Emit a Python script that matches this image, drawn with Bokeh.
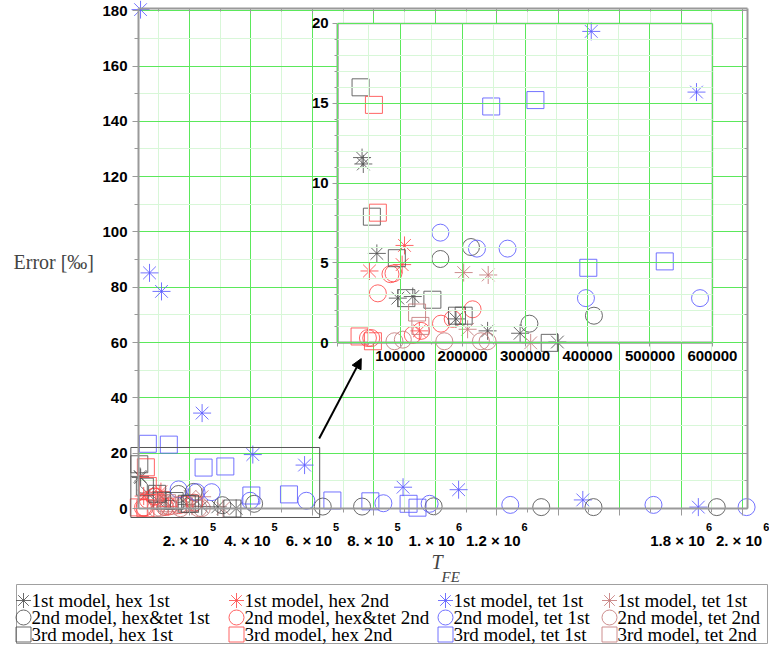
import numpy as np
from bokeh.plotting import figure
from bokeh.models import (Range1d, LinearAxis, Grid, SingleIntervalTicker, Arrow, NormalHead,
                          Label, BasicTickFormatter)
from bokeh.core.properties import value
from bokeh.embed import file_html
from bokeh.resources import INLINE

# ---------------- data (T_FE, Error [per mille]) ----------------
M1_HEX1_X = [39000, 41000, 62700, 96300, 120200, 189400, 240000, 292100, 351800]
M1_HEX1_Y = [11.6, 11.2, 5.6, 2.8, 2.9, 1.5, 0.75, 0.6, 0.05]
M1_HEX2_X = [50900, 103200, 107000, 130800]
M1_HEX2_Y = [4.5, 4.9, 6.1, 0.75]
M1_TET1_X = [40650, 69900, 108900, 241000, 406000, 574500, 895000, 1075800, 1480000, 1856000]
M1_TET1_Y = [180.4, 85.2, 78.5, 34.5, 19.5, 15.7, 7.7, 6.8, 3.1, 0.5]
M1_TET1B_X = [201700, 241000, 208000, 309000]
M1_TET1B_Y = [4.4, 4.25, 0.85, 0.0]

M2_HT1_X = [164400, 213400, 307000, 410300, 633600, 761600, 994500, 1344700, 1514800, 1916000]
M2_HT1_Y = [5.25, 6.0, 1.2, 1.7, 0.7, 0.7, 0.8, 0.5, 0.5, 0.5]
M2_HT2_X = [48400, 53700, 64300, 84500, 89300, 120200, 133500, 165400, 184100, 216000]
M2_HT2_Y = [0.3, 0.3, 3.1, 4.3, 4.35, 0.5, 0.75, 1.2, 1.5, 2.1]
M2_TET1_X = [164400, 223000, 272000, 397500, 580200, 831000, 981500, 1244000, 1710000, 2013000]
M2_TET1_Y = [6.9, 5.9, 5.9, 2.8, 2.8, 1.9, 1.7, 1.3, 1.3, 0.5]
M2_TET2_X = [90900, 104300, 170700, 229300, 240000]
M2_TET2_Y = [0.1, 0.2, 0.1, 0.1, 0.1]

M3_HEX1_X = [36600, 54700, 94700, 110000, 151600, 191000, 201700, 339500]
M3_HEX1_Y = [16.0, 7.9, 5.3, 2.8, 2.7, 1.7, 1.7, 0.0]
M3_HEX2_X = [35000, 56400, 58000, 64300]
M3_HEX2_Y = [0.4, 0.1, 14.9, 8.15]
M3_TET1_X = [64400, 132700, 245800, 316600, 401300, 523700, 665000, 788600, 913000, 942000]
M3_TET1_Y = [23.4, 23.1, 14.8, 15.2, 4.7, 5.1, 2.9, 2.6, 1.7, 0.3]
M3_TET2_X = [127100, 132400]
M3_TET2_Y = [1.9, 1.06]

# x tick labels of the main plot ("mantissa × 10" with a raised exponent)
X_TICKS = [200000, 400000, 600000, 800000, 1000000, 1200000, 1800000, 2000000]
X_TICK_BASE = ["2. × 10", "4. × 10", "6. × 10", "8. × 10", "1. × 10", "1.2 × 10", "1.8 × 10", "2. × 10"]
X_TICK_EXP = ["5", "5", "5", "5", "6", "6", "6", "6"]

BLACK, RED, BLUE, ROSY = "#505050", "#ff4a4a", "#5a5aff", "#c47a7a"

SERIES = [
    ("1st model, hex 1st", "asterisk", BLACK, M1_HEX1_X, M1_HEX1_Y),
    ("1st model, hex 2nd", "asterisk", RED, M1_HEX2_X, M1_HEX2_Y),
    ("1st model, tet 1st", "asterisk", BLUE, M1_TET1_X, M1_TET1_Y),
    ("1st model, tet 1st", "asterisk", ROSY, M1_TET1B_X, M1_TET1B_Y),
    ("2nd model, hex&tet 1st", "circle", BLACK, M2_HT1_X, M2_HT1_Y),
    ("2nd model, hex&tet 2nd", "circle", RED, M2_HT2_X, M2_HT2_Y),
    ("2nd model, tet 1st", "circle", BLUE, M2_TET1_X, M2_TET1_Y),
    ("2nd model, tet 2nd", "circle", ROSY, M2_TET2_X, M2_TET2_Y),
    ("3rd model, hex 1st", "square", BLACK, M3_HEX1_X, M3_HEX1_Y),
    ("3rd model, hex 2nd", "square", RED, M3_HEX2_X, M3_HEX2_Y),
    ("3rd model, tet 1st", "square", BLUE, M3_TET1_X, M3_TET1_Y),
    ("3rd model, tet 2nd", "square", ROSY, M3_TET2_X, M3_TET2_Y),
]

# axis / inset extents (data units)
XMIN, XMAX, YMIN, YMAX = 34000, 2016000, 0.0, 180.8
IN_X, IN_Y = (0, 600000), (0, 20)                # inset's own ranges
IN_TX, IN_TY = (682300, 1901800), (59.9, 175.4)  # where the inset sits (main data)
ZOOM_X, ZOOM_Y = (9100, 623700), (-3.25, 22.06)  # rectangle marking the zoomed region
ARROW_FROM, ARROW_TO = (622000, 25.3), (759000, 54.2)

# ---------------- layout geometry (pixels) ----------------
W, H = 769, 646
BL, BR, BT, BB = 138, 747, 8, 508      # axis box in canvas pixels
sx = (XMAX - XMIN) / (BR - BL)
sy = (YMAX - YMIN) / (BB - BT)
x_start = XMIN - BL * sx
x_end = XMAX + (W - BR) * sx
y_start = YMIN - (H - BB) * sy
y_end = YMAX + BT * sy


def inset_range(s, e, src, tgt):
    k = (src[1] - src[0]) / (tgt[1] - tgt[0])
    return Range1d(src[0] + (s - tgt[0]) * k, src[0] + (e - tgt[0]) * k)


GREEN, LGREEN, GRAY = "#5be85b", "#d8f7d8", "#9a9a9a"
TICK_FONT = "Liberation Sans"
SERIF = "Liberation Serif"
TICK_PX, EXP_PX = 15, 11

p = figure(width=W, height=H, x_range=Range1d(x_start, x_end), y_range=Range1d(y_start, y_end),
           output_backend="svg", toolbar_location=None, title=None,
           x_axis_type=None, y_axis_type=None, min_border=0)
p.outline_line_color = None
p.background_fill_color = "white"
p.border_fill_color = "white"
p.extra_x_ranges = {"ix": inset_range(x_start, x_end, IN_X, IN_TX), "px": Range1d(0, W)}
p.extra_y_ranges = {"iy": inset_range(y_start, y_end, IN_Y, IN_TY), "py": Range1d(H, 0)}


def add_grid(dim, ticker, bounds, cross, rx="default", ry="default", level="underlay"):
    g = Grid(dimension=dim, ticker=ticker, bounds=bounds, cross_bounds=cross,
             x_range_name=rx, y_range_name=ry, level=level,
             grid_line_color=GREEN, grid_line_width=1,
             minor_grid_line_color=LGREEN, minor_grid_line_width=1)
    p.add_layout(g)


def style_axis(ax, tick_out=6, minor_out=4, tick_in=0, minor_in=0, standoff=5, labels=True):
    ax.axis_line_color = GRAY
    ax.axis_line_width = 2
    ax.major_tick_line_color = GRAY
    ax.minor_tick_line_color = GRAY
    ax.major_tick_out = tick_out
    ax.minor_tick_out = minor_out
    ax.major_tick_in = tick_in
    ax.minor_tick_in = minor_in
    ax.major_label_standoff = standoff
    ax.major_label_text_font = TICK_FONT
    ax.major_label_text_font_style = "bold"
    ax.major_label_text_font_size = f"{TICK_PX}px"
    ax.major_label_text_color = "black" if labels else None


# main grids
mx_tick = SingleIntervalTicker(interval=200000, num_minor_ticks=2)
my_tick = SingleIntervalTicker(interval=20, num_minor_ticks=2)
add_grid(0, mx_tick, (XMIN, XMAX), (YMIN, YMAX))
add_grid(1, my_tick, (YMIN, YMAX), (XMIN, XMAX))

# main axes (box)
yax = LinearAxis(fixed_location=XMIN, bounds=(YMIN, YMAX), ticker=my_tick)
style_axis(yax)
p.add_layout(yax, "left")
xax = LinearAxis(fixed_location=YMIN, bounds=(XMIN, XMAX), ticker=mx_tick)
style_axis(xax, tick_out=7, labels=False)   # labels drawn below as mantissa + exponent
p.add_layout(xax, "below")
tax = LinearAxis(fixed_location=YMAX, bounds=(XMIN, XMAX), ticker=mx_tick)
style_axis(tax, tick_out=0, minor_out=0, tick_in=5, minor_in=3, labels=False)
p.add_layout(tax, "above")
rax = LinearAxis(fixed_location=XMAX, bounds=(YMIN, YMAX), ticker=my_tick)
style_axis(rax, tick_out=0, minor_out=0, tick_in=5, minor_in=3, labels=False)
p.add_layout(rax, "right")

# x tick labels: "2. × 10" followed by a raised exponent, centred as a whole on the tick
ADV = {".": 0.278, " ": 0.278, "×": 0.584}
base_w = [sum(ADV.get(ch, 0.556) for ch in s) * TICK_PX for s in X_TICK_BASE]
exp_w = [0.556 * EXP_PX * len(s) for s in X_TICK_EXP]
tot_w = [b + 1 + e for b, e in zip(base_w, exp_w)]
base_off = [t / 2 - e - 1 for t, e in zip(tot_w, exp_w)]
exp_off = [t / 2 - e for t, e in zip(tot_w, exp_w)]
p.text(x=X_TICKS, y=[540] * len(X_TICKS), text=X_TICK_BASE, x_offset=base_off,
       y_range_name="py", text_align="right", text_baseline="alphabetic",
       text_font=value(TICK_FONT), text_font_style="bold", text_font_size=f"{TICK_PX}px",
       text_color="black")
p.text(x=X_TICKS, y=[526] * len(X_TICKS), text=X_TICK_EXP, x_offset=exp_off,
       y_range_name="py", text_align="left", text_baseline="alphabetic",
       text_font=value(TICK_FONT), text_font_style="bold", text_font_size=f"{EXP_PX}px",
       text_color="black")

# main data
for name, marker, color, xs, ys in SERIES:
    p.scatter(xs, ys, marker=marker, size=18 if marker == "asterisk" else 17,
              fill_color=None, line_color=color, line_alpha=0.85, line_width=1)

# zoom rectangle + arrow
p.quad(left=[ZOOM_X[0]], right=[ZOOM_X[1]], bottom=[ZOOM_Y[0]], top=[ZOOM_Y[1]],
       fill_color=None, line_color="#555555", line_width=1)
p.add_layout(Arrow(x_start=ARROW_FROM[0], y_start=ARROW_FROM[1], x_end=ARROW_TO[0], y_end=ARROW_TO[1],
                   line_color="black", line_width=2,
                   end=NormalHead(size=10, fill_color="black", line_color="black")))

# inset
p.quad(left=[IN_X[0]], right=[IN_X[1]], bottom=[IN_Y[0]], top=[IN_Y[1]],
       x_range_name="ix", y_range_name="iy", fill_color="white",
       line_color=GRAY, line_width=1.5, level="annotation")
ix_tick = SingleIntervalTicker(interval=100000, num_minor_ticks=2)
iy_tick = SingleIntervalTicker(interval=5, num_minor_ticks=5)
add_grid(0, ix_tick, IN_X, IN_Y, "ix", "iy", "overlay")
add_grid(1, iy_tick, IN_Y, IN_X, "ix", "iy", "overlay")
iyax = LinearAxis(x_range_name="ix", y_range_name="iy", fixed_location=IN_X[0], bounds=IN_Y,
                  ticker=iy_tick, level="overlay")
style_axis(iyax, tick_out=5, minor_out=3, standoff=4)
p.add_layout(iyax, "left")
ixax = LinearAxis(x_range_name="ix", y_range_name="iy", fixed_location=IN_Y[0], bounds=IN_X,
                  ticker=ix_tick, level="overlay",
                  formatter=BasicTickFormatter(use_scientific=False),
                  major_label_overrides={0: ""})
style_axis(ixax, tick_out=4, minor_out=2, standoff=4)
p.add_layout(ixax, "below")

for name, marker, color, xs, ys in SERIES:
    xs_a, ys_a = np.asarray(xs, float), np.asarray(ys, float)
    keep = (xs_a <= IN_X[1] * 1.03) & (ys_a <= IN_Y[1] * 1.02)
    p.scatter(xs_a[keep], ys_a[keep], marker=marker, size=18 if marker == "asterisk" else 17,
              fill_color=None, line_color=color, line_alpha=0.85, line_width=1,
              x_range_name="ix", y_range_name="iy", level="overlay")

# axis titles (pixel coordinates)
p.add_layout(Label(x=13, y=261, x_range_name="px", y_range_name="py", text="Error [‰]",
                   text_font=SERIF, text_font_size="20px", text_baseline="alphabetic"))
p.add_layout(Label(x=431, y=561, x_range_name="px", y_range_name="py", text="T",
                   text_font=SERIF, text_font_style="italic", text_font_size="20px",
                   text_baseline="alphabetic"))
p.add_layout(Label(x=441, y=576, x_range_name="px", y_range_name="py", text="FE",
                   text_font=SERIF, text_font_style="italic", text_font_size="15px",
                   text_baseline="alphabetic"))

# ---------------- legend (pixel coordinates) ----------------
LEG_BOX = (16, 767, 584, 643)
LEG_GX = [23, 236, 445, 609]
LEG_RY = [600, 617, 634]
p.quad(left=[LEG_BOX[0]], right=[LEG_BOX[1]], top=[LEG_BOX[2]], bottom=[LEG_BOX[3]],
       x_range_name="px", y_range_name="py", fill_color="white", line_color="#a0a0a0")
for i, (name, marker, color, xs, ys) in enumerate(SERIES):
    r, c = divmod(i, 4)
    p.scatter([LEG_GX[c]], [LEG_RY[r]], marker=marker, size=15, fill_color=None,
              line_color=color, line_alpha=0.85, line_width=1, x_range_name="px", y_range_name="py")
    p.text([LEG_GX[c] + 8], [LEG_RY[r]], text=[name], text_baseline="middle", text_align="left",
           text_font=value(SERIF), text_font_size="19px", text_color="black",
           x_range_name="px", y_range_name="py")

open("out.html", "w").write(file_html(p, INLINE))
